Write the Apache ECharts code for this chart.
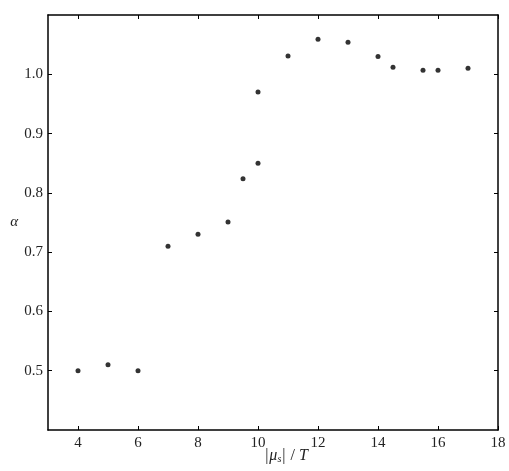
<!DOCTYPE html>
<html>
<head>
<meta charset="utf-8">
<script src="https://cdn.jsdelivr.net/npm/echarts@6/dist/echarts.min.js"></script>
<style>html,body{margin:0;padding:0;background:#fff}#c{width:509px;height:471px}</style>
</head>
<body>
<div id="c"></div>
<script>
const muOverT = [4, 5, 6, 7, 8, 9, 9.5, 10, 10, 11, 12, 13, 14, 14.5, 15.5, 16, 17];
const alpha = [0.500, 0.510, 0.500, 0.710, 0.730, 0.751, 0.824, 0.850, 0.970, 1.031, 1.059, 1.054, 1.030, 1.012, 1.007, 1.007, 1.010];
const xTicks = [4, 6, 8, 10, 12, 14, 16, 18];
const yTicks = [0.5, 0.6, 0.7, 0.8, 0.9, 1.0];

const font = "'Liberation Serif', 'DejaVu Serif', serif";
const chart = echarts.init(document.getElementById('c'), null, {renderer: 'canvas'});
const axisLine = {show: true, lineStyle: {color: '#000', width: 1.5}};
const tick = {show: true, inside: true, length: 4, lineStyle: {color: '#000', width: 1}};
chart.setOption({
  animation: false,
  backgroundColor: '#fff',
  grid: {left: 48, right: 11, top: 15, bottom: 41, containLabel: false, outerBoundsMode: 'none'},
  xAxis: [{
    type: 'value', min: 3, max: 18, interval: 1,
    axisLine, axisTick: {...tick, customValues: xTicks},
    splitLine: {show: false},
    axisLabel: {customValues: xTicks, fontFamily: font, fontSize: 15, color: '#222', margin: 6,
      formatter: v => String(v)},
    name: '{a||}{m|μ}{s|s}{a||}{b| / }{m|T}', nameLocation: 'middle', nameGap: 18,
    nameMoveOverlap: false,
    nameTextStyle: {padding: [0, 0, 0, 26], rich: {
      a: {fontFamily: font, fontSize: 16, color: '#222', padding: [0, 1, 0, 1]},
      b: {fontFamily: font, fontSize: 16, color: '#222'},
      m: {fontFamily: font, fontSize: 16, fontStyle: 'italic', color: '#222'},
      s: {fontFamily: font, fontSize: 10, fontStyle: 'italic', color: '#222', verticalAlign: 'bottom', padding: [6, 0, 0, 0]}
    }}
  }, {
    type: 'value', position: 'top', min: 3, max: 18, interval: 1,
    axisLine, axisTick: {...tick, customValues: xTicks},
    axisLabel: {show: false}, splitLine: {show: false}
  }],
  yAxis: [{
    type: 'value', min: 0.4, max: 1.1, interval: 0.1,
    axisLine, axisTick: {...tick, customValues: yTicks},
    splitLine: {show: false},
    axisLabel: {customValues: yTicks, fontFamily: font, fontSize: 15, color: '#222', margin: 5,
      formatter: v => v.toFixed(1)},
    name: 'α', nameLocation: 'middle', nameGap: 30, nameRotate: 0, nameMoveOverlap: false,
    nameTextStyle: {fontFamily: font, fontSize: 15, fontStyle: 'italic', color: '#222'}
  }, {
    type: 'value', position: 'right', min: 0.4, max: 1.1, interval: 0.1,
    axisLine, axisTick: {...tick, customValues: yTicks},
    axisLabel: {show: false}, splitLine: {show: false}
  }],
  series: [{
    type: 'scatter',
    data: muOverT.map((x, i) => [x, alpha[i]]),
    symbol: 'circle', symbolSize: 5,
    itemStyle: {color: '#000'}
  }]
});
</script>
</body>
</html>
